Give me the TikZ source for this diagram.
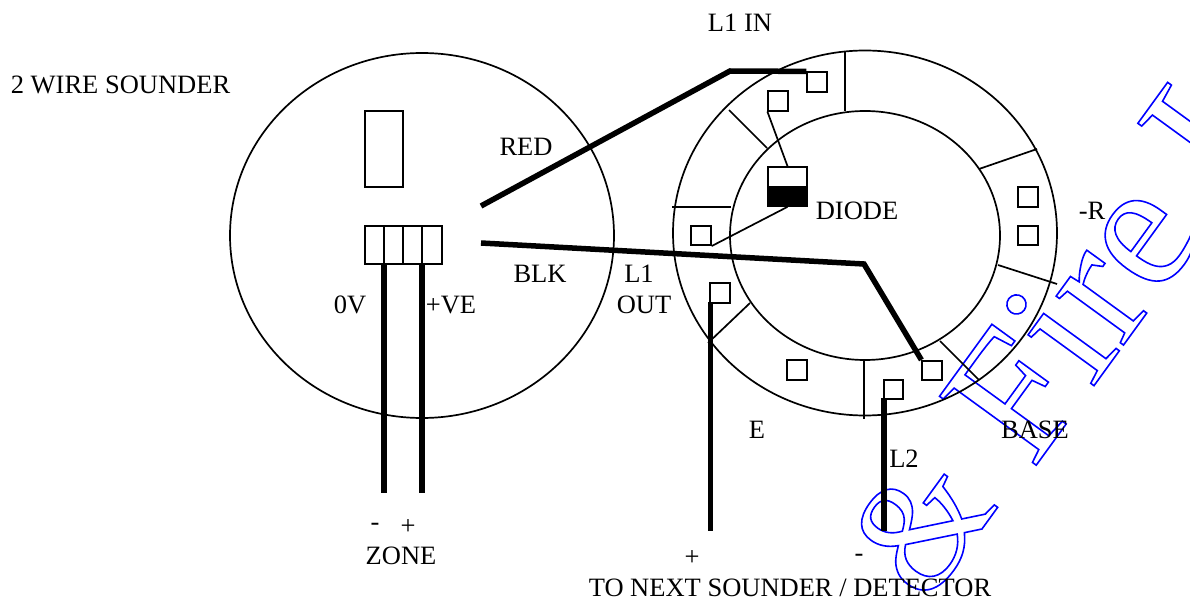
\documentclass[tikz,border=0pt]{standalone}
\usepackage{fontspec}
\setmainfont{Liberation Serif}
\usetikzlibrary{positioning}
\tikzset{
  lbl/.style={inner sep=0pt,font=\fontsize{26.6}{30}\selectfont},
  term/.style={draw,minimum size=19.5bp,inner sep=0pt},
  wmark/.style={inner sep=0pt,rotate=54,anchor=base west},
  thick wire/.style={line width=5.5bp}
}
\newcommand{\outlined}[2]{\fontsize{#1}{#1}\selectfont\special{pdf:code 1 Tr 1.6 w 0 0 1 RG}#2\special{pdf:code 0 Tr}}
\begin{document}
\begin{tikzpicture}[x=1bp,y=-1bp,line width=1.7bp]
\useasboundingbox (0,0) rectangle (1190,598);
% watermark
\node[wmark] (amp) at (926,606) {\outlined{160}{\&}};
\node[wmark] (fire) at (1032,471) {\outlined{182}{Fire L}};
% sounder
\draw (422,235.5) ellipse (192 and 182.5);
\node[draw,minimum width=38bp,minimum height=76bp,inner sep=0pt] (relay) at (384,149) {};
\node[draw,minimum width=77bp,minimum height=38bp,inner sep=0pt] (block) at (403.5,245) {};
\draw (384,226)--(384,264);
\draw (403,226)--(403,264);
\draw (422,226)--(422,264);
% base
\draw (865,233) ellipse (192 and 182.5);
\draw (865,235.5) ellipse (135 and 124.5);
\draw (845,52)--(845,111);
\draw (979,169)--(1037,149);
\draw (998,265)--(1057,284);
\draw (940,341)--(979,380);
\draw (864,360)--(864,419);
\draw (708,343)--(750,303);
\draw (672,207)--(731,207);
\draw (729,110)--(767,148);
% terminals
\node[term] (t1) at (817,82) {};
\node[term] (t2) at (778,101) {};
\node[term] (t3) at (701,235.5) {};
\node[term] (t4) at (720,293) {};
\node[term] (t5) at (797,370) {};
\node[term] (t6) at (893.5,389.5) {};
\node[term] (t7) at (932,370.5) {};
\node[term] (t8) at (1028,197) {};
\node[term] (t9) at (1028,235.5) {};
% diode
\node[draw,minimum size=39bp,inner sep=0pt] (diode) at (787.5,186.5) {};
\fill (768,186)rectangle(807.5,206);
\draw (t2.south west)--(diode.north);
\draw (diode.south)--(t3.south east);
% wires
\coordinate (redstart) at (481,206);
\coordinate (redbend) at (730,71);
\coordinate (blkstart) at (481,243);
\coordinate (blkbend) at (864,264);
\coordinate (zoneminus) at (384,493);
\coordinate (zoneplus) at (422,493);
\coordinate (nextplus) at (710.5,531);
\coordinate (nextminus) at (884,531);
\draw[thick wire] (redstart)--(redbend)--(t1.north west);
\draw[thick wire] (blkstart)--(blkbend)--(t7.north west);
\draw[thick wire] (384,264)--(zoneminus);
\draw[thick wire] (422,264)--(zoneplus);
\draw[thick wire] (710.5,302)--(nextplus);
\draw[thick wire] (884,398)--(nextminus);
% labels
\node[lbl,anchor=west] (title) at (10,85) {2 WIRE SOUNDER};
\node[lbl] (l1in) at (740,23) {L1 IN};
\node[lbl] (red) at (526,147) {RED};
\node[lbl] (blk) at (540,274) {BLK};
\node[lbl] (zerov) at (350,305) {0V};
\node[lbl] (plusve) at (451,305) {+VE};
\node[lbl] (lone) at (639,274) {L1};
\node[lbl] (out) at (644,305) {OUT};
\node[lbl] (dlabel) at (857,211) {DIODE};
\node[lbl] (rlabel) at (1092,211) {-R};
\node[lbl] (e) at (757,430) {E};
\node[lbl] (baselabel) at (1035,430) {BASE};
\node[lbl] (ltwo) at (904,459) {L2};
\node[lbl] (zminus) at (375,527) {-};
\node[lbl] (zplus) at (408,527) {+};
\node[lbl] (zone) at (401,556) {ZONE};
\node[lbl] (nplus) at (692,558) {+};
\node[lbl] (nminus) at (859,558) {-};
\node[lbl] (next) at (790,588) {TO NEXT SOUNDER / DETECTOR};
\end{tikzpicture}
\end{document}
